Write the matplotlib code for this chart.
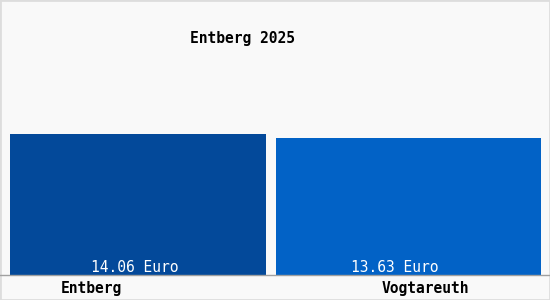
import matplotlib
matplotlib.use("Agg")
import matplotlib.pyplot as plt
import matplotlib.transforms as mtransforms

# data
towns = ["Entberg", "Vogtareuth"]
prices = [14.06, 13.63]
value_labels = ["14.06 Euro", "13.63 Euro"]
title = "Entberg 2025"

colors = ["#03499a", "#0262c6"]
font = "DejaVu Sans Mono"

fig = plt.figure(figsize=(5.5, 3), dpi=100, facecolor="#f9f9f9")
# axes: x from 10 to 541 px, y baseline at 275 px, 10.03 px per euro
ax = fig.add_axes([10/550, 25/300, 531/550, 200.6/300])
ax.set_facecolor("none")
ax.bar([0, 1], prices, width=[0.965, 1.0], align="edge", color=colors)
ax.set_xlim(0, 2)
ax.set_ylim(0, 20)
ax.axis("off")

# baseline over full width
fig.add_artist(plt.Line2D([0, 1], [25/300, 25/300], color="#a0a0a0", lw=1))
# light frame
fig.add_artist(plt.Rectangle((0, 0), 1, 1, fill=False, edgecolor="#dddddd", lw=2,
                             transform=fig.transFigure))

blend = mtransforms.blended_transform_factory(ax.transData, fig.transFigure)
val_x = [0.471, 1.45]
cat_x = [0.305, 1.563]
for i in range(len(towns)):
    ax.text(val_x[i], 33/300, value_labels[i], transform=blend, ha="center", va="center",
            color="white", fontsize=10.5, family=font)
    ax.text(cat_x[i], 12/300, towns[i], transform=blend, ha="center", va="center",
            color="black", fontsize=10.5, family=font, weight="bold")

fig.text(243/550, 1 - 38/300, title, ha="center", va="center", fontsize=10.5,
         family=font, weight="bold")

fig.savefig("out.png", dpi=100, facecolor=fig.get_facecolor())
